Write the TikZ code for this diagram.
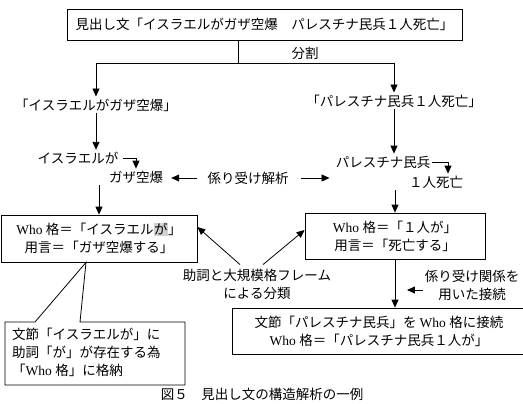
\documentclass[tikz,border=0pt]{standalone}
\usepackage{fontspec}
\setmainfont{Noto Sans CJK JP}
\newfontfamily\latinfont{Liberation Serif}
\usetikzlibrary{arrows.meta, positioning}
\newcommand{\who}{{\latinfont Who}\hspace{0.25em}}
\newcommand{\hlchar}[1]{{\setlength{\fboxsep}{0.6pt}\colorbox{black!18}{#1}}}
\tikzset{
	frame/.style    ={rectangle, draw=black, line width=0.8pt, align=center, inner sep=2pt},
	plain/.style    ={rectangle, inner sep=2pt, align=center},
	flowarrow/.style={-{Triangle[length=8pt, width=7pt]}, line width=0.8pt},
	line/.style     ={line width=0.8pt},
}
\begin{document}
\begin{tikzpicture}[x=1bp, y=-1bp, every node/.style={font=\fontsize{13.5bp}{18bp}\selectfont}]
	\useasboundingbox (0,0) rectangle (523,403);
	% headline and split
	\node[frame, minimum width=395bp, minimum height=31bp] (head) at (264.5,24.5) {見出し文「イスラエルがガザ空爆　パレスチナ民兵１人死亡」};
	\coordinate (split) at (238,63);
	\node[plain] (bunkatsu) at (305,53) {分割};
	\node[plain] (lsub) at (96,105) {「イスラエルがガザ空爆」};
	\node[plain] (rsub) at (394,101) {「パレスチナ民兵１人死亡」};
	\draw[line] (head.south -| split) -- (split);
	\draw[flowarrow] (split) -| (lsub.north);
	\draw[flowarrow] (split) -| (rsub.north);
	% dependency parsing
	\node[plain] (wa) at (78,158) {イスラエルが};
	\node[plain] (gaza) at (136,177) {ガザ空爆};
	\node[plain] (kakari) at (248,178) {係り受け解析};
	\node[plain] (pal) at (383,162) {パレスチナ民兵};
	\node[plain] (hit) at (436,182) {１人死亡};
	\draw[flowarrow] (lsub.south) -- (lsub.south |- wa.north);
	\draw[flowarrow] (rsub.south) -- (rsub.south |- pal.north);
	\draw[flowarrow] ([xshift=3bp]wa.east) -| (gaza.north);
	\draw[flowarrow] (pal.east) -| ([xshift=12bp]hit.north);
	\draw[flowarrow, shorten <=8bp, shorten >=6bp] (kakari.west) -- (kakari.west -| gaza.east);
	\draw[flowarrow, shorten <=10bp, shorten >=4bp] (kakari.east) -- (kakari.east -| pal.west);
	% case frames
	\node[frame, minimum width=196bp, minimum height=47bp] (lbox) at (99,238.5) {\who 格＝「イスラエル\hlchar{が}」\\用言＝「ガザ空爆する」};
	\node[frame, minimum width=180bp, minimum height=46bp] (rbox) at (395,236) {\who 格＝「１人が」\\用言＝「死亡する」};
	\draw[flowarrow] (lbox.north |- gaza.south) -- (lbox.north);
	\draw[flowarrow] (rbox.north |- hit.south) -- (rbox.north);
	\node[plain] (cls) at (257,284) {助詞と大規模格フレーム\\による分類};
	\draw[flowarrow] ([xshift=-17bp, yshift=2bp]cls.north) -- ([yshift=11.5bp]lbox.east);
	\draw[flowarrow] ([xshift=6bp, yshift=2bp]cls.north) -- ([yshift=6bp]rbox.west);
	% connection
	\node[frame, minimum width=294bp, minimum height=46bp] (res) at (379,331) {文節「パレスチナ民兵」を \who 格に接続\\\who 格＝「パレスチナ民兵１人が」};
	\node[plain] (conn) at (472,285) {係り受け関係を\\用いた接続};
	\draw[flowarrow] (rbox.south) -- (rbox.south |- res.north);
	\draw[flowarrow, shorten >=12bp] ([yshift=-5bp]conn.west) -- ([yshift=-5bp]conn.west -| rbox.south);
	% callout
	\node[plain, align=left, anchor=north west, inner sep=0pt] (cmt) at (12,328) {文節「イスラエルが」に\\助詞「が」が存在する為\\「\who 格」に格納};
	\coordinate (tip) at ([xshift=-13bp]lbox.south);
	\draw[line] (5,322) -- (35,322) -- (tip) -- (80,322) -- (185,322) -- (185,385) -- (5,385) -- cycle;
	% caption
	\node[plain] (cap) at (262,394) {図５　見出し文の構造解析の一例};
\end{tikzpicture}
\end{document}
